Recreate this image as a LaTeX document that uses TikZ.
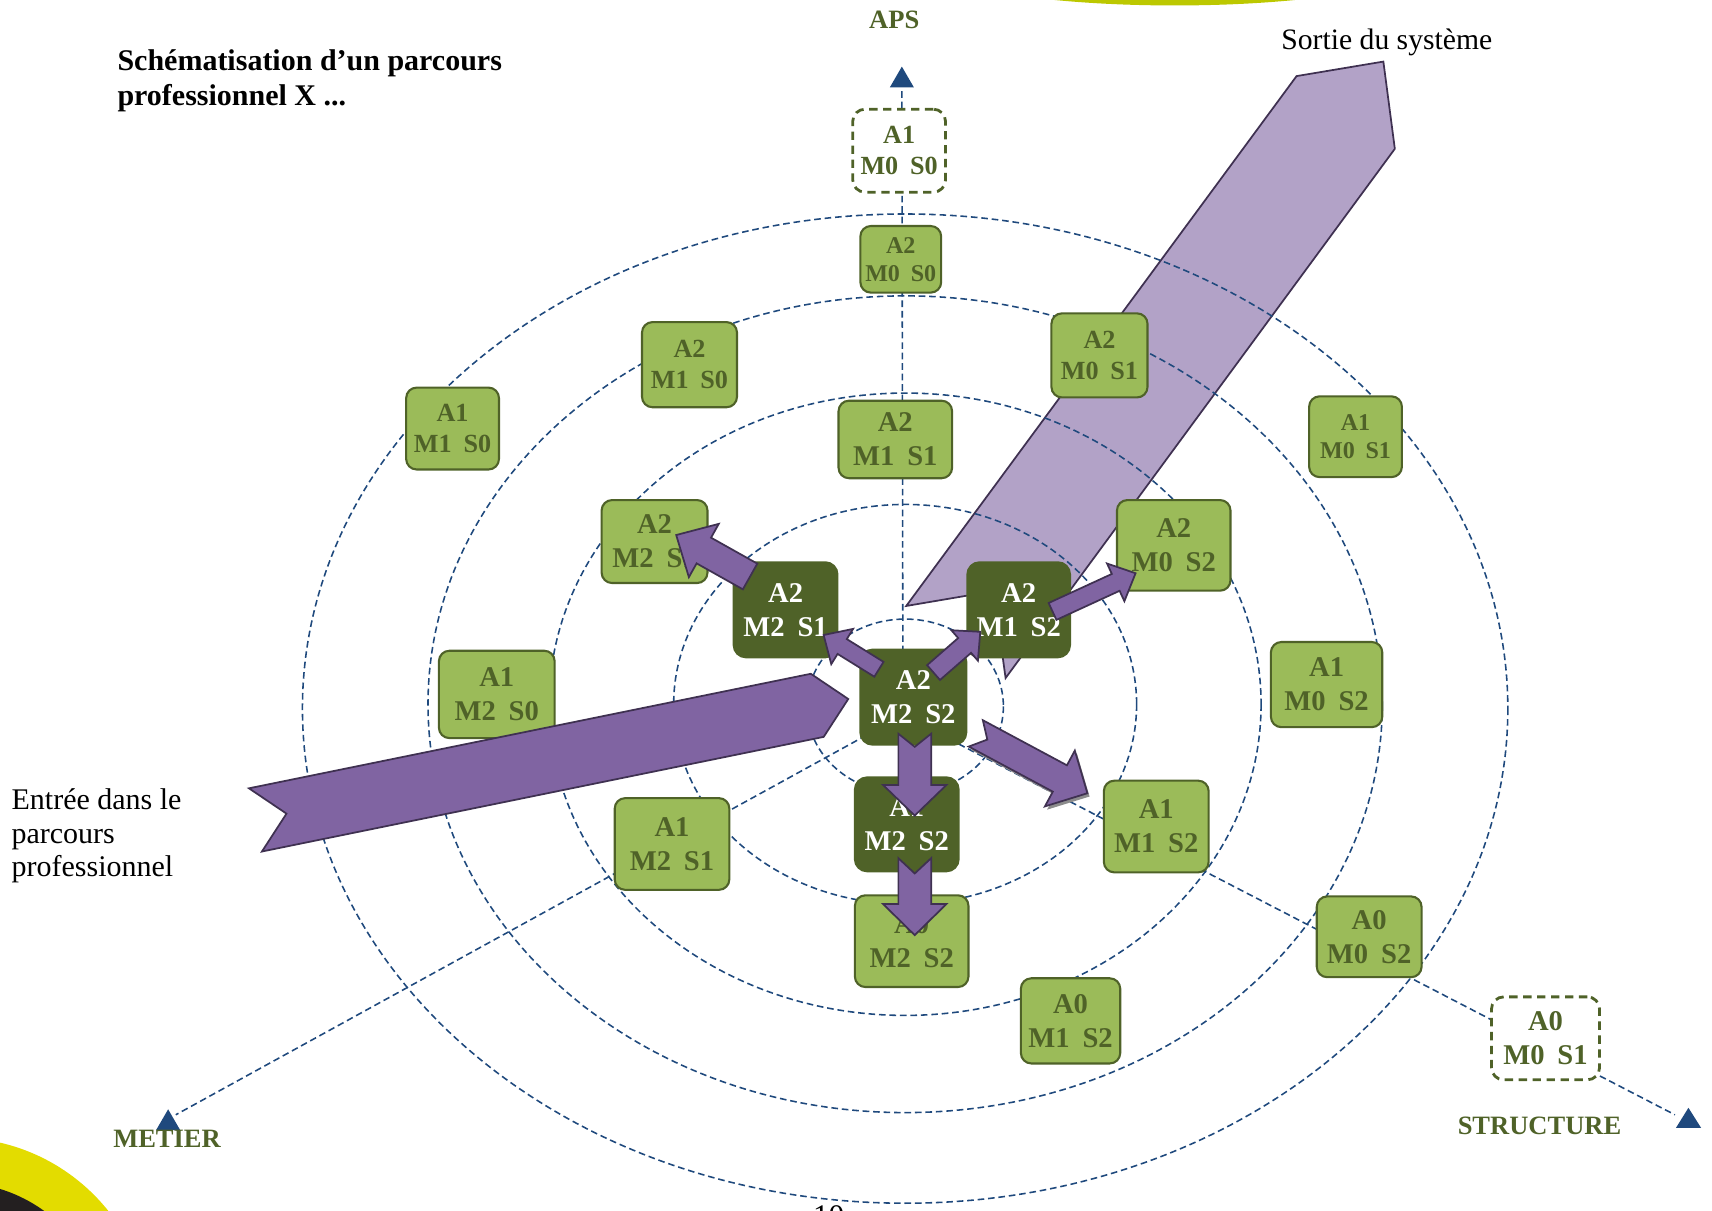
\documentclass[tikz,border=0pt]{standalone}
\usepackage{fontspec}
\setmainfont{Liberation Serif}

\definecolor{olivedark}{HTML}{4F6228}
\definecolor{olivelight}{HTML}{9BBB59}
\definecolor{axisblue}{HTML}{1F497D}
\definecolor{purplemid}{HTML}{8064A2}
\definecolor{purplepale}{HTML}{B2A2C7}
\definecolor{purpleline}{HTML}{3F3151}
\definecolor{limeband}{HTML}{BCC800}
\definecolor{yellowmark}{HTML}{E3DC00}
\definecolor{inkmark}{HTML}{231F20}

\newcommand\stagelab[3]{#1\\#2\hspace{0.45em}#3}

\tikzset{
  boxsize/.style 2 args={minimum width=#1*0.011cm, minimum height=#2*0.011cm},
  lightbox/.style={draw=olivedark, fill=olivelight, text=olivedark, line width=0.6pt,
    rounded corners=3pt, inner sep=0pt, align=center},
  darkbox/.style={draw=olivedark, fill=olivedark, text=white, line width=0.6pt,
    rounded corners=3.5pt, inner sep=0pt, align=center},
  ghostbox/.style={draw=olivedark, fill=white, text=olivedark, line width=0.8pt,
    dash pattern=on 2.4pt off 1.6pt, rounded corners=3.5pt, inner sep=0pt, align=center},
  bigtxt/.style={font=\fontsize{8.2}{9.8}\selectfont\bfseries},
  midtxt/.style={font=\fontsize{7.5}{8.8}\selectfont\bfseries},
  smalltxt/.style={font=\fontsize{6.9}{8.1}\selectfont\bfseries},
  axislabel/.style={font=\fontsize{7.6}{9}\selectfont\bfseries, text=olivedark, inner sep=0pt},
  ringline/.style={draw=axisblue, line width=0.45pt, dash pattern=on 1.9pt off 1.1pt},
  axisline/.style={ringline},
  bandarrow/.style={fill=purplemid, draw=purpleline, line width=0.5pt},
  bandpale/.style={fill=purplepale, draw=purpleline, line width=0.5pt},
  pics/blockarrow/.style n args={6}{code={
    \draw[#6] (0,#2) -- (#1-#4,#2) -- (#1-#4,#3) -- (#1,0) -- (#1-#4,-#3)
      -- (#1-#4,-#2) -- (0,-#2) -- (#5,0) -- cycle;
  }}
}

\begin{document}
\begin{tikzpicture}[x=0.011cm, y=-0.011cm]
  \useasboundingbox (0,0) rectangle (1568,1109);
  \clip (0,0) rectangle (1568,1109);

  % page decoration
  \fill[limeband] (1076,-40) ellipse [x radius=240, y radius=45];
  \fill[yellowmark] (-40,1220) circle [radius=178];
  \fill[inkmark] (-40,1220) circle [radius=137];

  \draw[bandpale] (830,555) -- (1187.5,69.7) -- (1267,56.4) -- (1277.5,136.3)
    -- (921,621) -- (910,541.4) -- cycle;

  \draw[ringline] (829,647) ellipse [x radius=90, y radius=80];
  \draw[ringline] (829,645) ellipse [x radius=212, y radius=183];
  \draw[ringline] (829,645) ellipse [x radius=326, y radius=285];
  \draw[ringline] (829,645) ellipse [x radius=437, y radius=374];
  \draw[ringline] (829,649) ellipse [x radius=552, y radius=453];

  \coordinate (O) at (827,655);
  \coordinate (apsend) at (826,80);
  \coordinate (metierend) at (161,1021);
  \coordinate (structend) at (1534,1021);
  \draw[axisline] (O) -- (apsend);
  \draw[axisline] (O) -- (metierend);
  \draw[axisline] (O) -- (structend);
  \fill[axisblue] (826,61) -- (837,80) -- (815,80) -- cycle;
  \fill[axisblue] (154,1016) -- (165,1035) -- (143,1035) -- cycle;
  \fill[axisblue] (1546.4,1014.6) -- (1558,1033) -- (1535,1033) -- cycle;

  \node[axislabel] (aps) at (819,18) {APS};
  \node[axislabel] (metier) at (153,1043) {METIER};
  \node[axislabel] (structure) at (1410,1031) {STRUCTURE};

  \node[ghostbox, midtxt, boxsize={85}{76}] (a1m0s0) at (823.5,138) {\stagelab{A1}{M0}{S0}};
  \node[lightbox, smalltxt, boxsize={74}{61}] (a2m0s0) at (825,237.5) {\stagelab{A2}{M0}{S0}};
  \node[lightbox, midtxt, boxsize={87}{78}] (a2m1s0) at (631.5,334) {\stagelab{A2}{M1}{S0}};
  \node[lightbox, midtxt, boxsize={88}{77}] (a2m0s1) at (1007,325.5) {\stagelab{A2}{M0}{S1}};
  \node[lightbox, midtxt, boxsize={85}{75}] (a1m1s0) at (414.5,392.5) {\stagelab{A1}{M1}{S0}};
  \node[lightbox, bigtxt, boxsize={104}{71}] (a2m1s1) at (820,402.5) {\stagelab{A2}{M1}{S1}};
  \node[lightbox, smalltxt, boxsize={85}{74}] (a1m0s1) at (1241.5,400) {\stagelab{A1}{M0}{S1}};
  \node[lightbox, bigtxt, boxsize={97}{76}] (a2m2s1) at (599.5,496) {\stagelab{A2}{M2}{S1}};
  \node[lightbox, bigtxt, boxsize={104}{83}] (a2m0s2) at (1075,499.5) {\stagelab{A2}{M0}{S2}};
  \node[darkbox, bigtxt, boxsize={95}{87}] (ka2m2s1) at (719.5,558.5) {\stagelab{A2}{M2}{S1}};
  \node[darkbox, bigtxt, boxsize={94}{87}] (ka2m1s2) at (933,558.5) {\stagelab{A2}{M1}{S2}};
  \node[lightbox, bigtxt, boxsize={102}{78}] (a1m0s2) at (1215,627) {\stagelab{A1}{M0}{S2}};
  \node[lightbox, bigtxt, boxsize={106}{80}] (a1m2s0) at (455,636) {\stagelab{A1}{M2}{S0}};
  \node[darkbox, bigtxt, boxsize={97}{87}] (ka2m2s2) at (836.5,638.5) {\stagelab{A2}{M2}{S2}};
  \node[darkbox, bigtxt, boxsize={95}{86}] (ka1m2s2) at (830.5,755) {\stagelab{A1}{M2}{S2}};
  \node[lightbox, bigtxt, boxsize={96}{84}] (a1m1s2) at (1059,757) {\stagelab{A1}{M1}{S2}};
  \node[lightbox, bigtxt, boxsize={105}{84}] (a1m2s1) at (615.5,773) {\stagelab{A1}{M2}{S1}};
  \node[lightbox, bigtxt, boxsize={104}{84}] (a0m2s2) at (835,862) {\stagelab{A0}{M2}{S2}};
  \node[lightbox, bigtxt, boxsize={96}{74}] (a0m0s2) at (1254,858) {\stagelab{A0}{M0}{S2}};
  \node[lightbox, bigtxt, boxsize={91}{78}] (a0m1s2) at (980.5,935) {\stagelab{A0}{M1}{S2}};
  \node[ghostbox, bigtxt, boxsize={99}{76}] (a0m0s1) at (1415.5,951) {\stagelab{A0}{M0}{S1}};

  \draw[bandarrow] (228,722) -- (742.6,617.1) -- (776.9,640.2) -- (754.4,674.9)
    -- (239.9,779.9) -- (262.4,745.2) -- cycle;

  \pic[rotate=148.2] at (805,613) {blockarrow={59.6}{8}{19}{20}{0}{bandarrow}};
  \pic[rotate=41.1] at (855,616) {blockarrow={56.8}{9}{18.5}{19}{0}{bandarrow}};
  \pic[rotate=150.7] at (687,528) {blockarrow={77.6}{13.5}{28}{29}{0}{bandarrow}};
  \pic[rotate=24.7] at (964,560) {blockarrow={83.7}{8.5}{19}{20}{0}{bandarrow}};
  \pic[rotate=-90] at (837.8,672) {blockarrow={75}{15}{29}{28}{12}{bandarrow}};
  \pic[rotate=-90] at (837.8,786) {blockarrow={70.5}{15}{29}{28.5}{14}{bandarrow}};
  \pic[rotate=-28.2] at (895.7,674.7) {blockarrow={116}{13.7}{29}{28.6}{12}{fill=black!45, draw=none}};
  \pic[rotate=-28.2] at (893.7,671.7) {blockarrow={116}{13.7}{29}{28.6}{12}{bandarrow}};

  \node[anchor=north west, inner sep=0pt, align=left,
    font=\fontsize{8.6}{10}\selectfont\bfseries] (title) at (107,45)
    {Schématisation d’un parcours\\professionnel X ...};
  \node[anchor=west, inner sep=0pt, font=\fontsize{8.5}{10}\selectfont] (exit) at (1173,39)
    {Sortie du système};
  \node[anchor=north west, inner sep=0pt, align=left,
    font=\fontsize{8.6}{9.55}\selectfont] (entry) at (10,722)
    {Entrée dans le\\parcours\\professionnel};
  \node[font=\fontsize{9}{10}\selectfont] (pagenum) at (759,1114) {10};
\end{tikzpicture}
\end{document}
